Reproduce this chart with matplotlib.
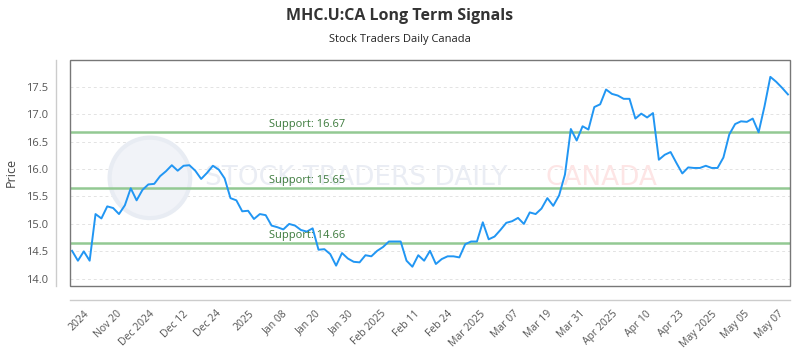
import numpy as np
import matplotlib.pyplot as plt
from matplotlib.patches import Rectangle, Ellipse

# ── data ────────────────────────────────────────────────────────────────
PRICES = [
    14.51, 14.33, 14.50, 14.33, 15.18, 15.10, 15.32, 15.29, 15.18, 15.34,
    15.65, 15.43, 15.62, 15.72, 15.73, 15.87, 15.96, 16.07, 15.97, 16.06,
    16.07, 15.97, 15.82, 15.93, 16.06, 15.99, 15.83, 15.47, 15.43, 15.23,
    15.24, 15.09, 15.18, 15.16, 14.97, 14.94, 14.90, 15.00, 14.97, 14.89,
    14.86, 14.92, 14.53, 14.54, 14.45, 14.24, 14.47, 14.37, 14.31, 14.30,
    14.43, 14.41, 14.51, 14.58, 14.68, 14.68, 14.68, 14.33, 14.22, 14.43,
    14.33, 14.51, 14.27, 14.36, 14.41, 14.41, 14.39, 14.63, 14.68, 14.68,
    15.03, 14.72, 14.77, 14.89, 15.02, 15.05, 15.11, 15.00, 15.21, 15.18,
    15.28, 15.47, 15.33, 15.52, 15.90, 16.73, 16.52, 16.78, 16.72, 17.13,
    17.18, 17.45, 17.37, 17.34, 17.28, 17.28, 16.92, 17.01, 16.94, 17.02,
    16.17, 16.26, 16.31, 16.11, 15.92, 16.03, 16.02, 16.02, 16.06, 16.02,
    16.02, 16.21, 16.63, 16.82, 16.87, 16.86, 16.92, 16.67, 17.14, 17.68,
    17.59, 17.48, 17.36,
]
SUPPORTS = [16.67, 15.65, 14.66]
XTICK_LABELS = [
    "2024", "Nov 20", "Dec 2024", "Dec 12", "Dec 24", "2025", "Jan 08",
    "Jan 20", "Jan 30", "Feb 2025", "Feb 11", "Feb 24", "Mar 2025", "Mar 07",
    "Mar 19", "Mar 31", "Apr 2025", "Apr 10", "Apr 23", "May 2025",
    "May 05", "May 07",
]
YTICKS = [14.0, 14.5, 15.0, 15.5, 16.0, 16.5, 17.0, 17.5]

TITLE = "MHC.U:CA Long Term Signals"
SUBTITLE = "Stock Traders Daily Canada"

LINE_COLOR = "#2196F3"
SUPPORT_COLOR = "#93c993"
SUPPORT_TEXT = "#3c7a3c"
TEXT_GREY = "#555555"

plt.rcParams.update({
    "font.family": ["Open Sans", "DejaVu Sans"],
    "font.size": 8,
})

fig = plt.figure(figsize=(8, 3.5), dpi=100)
ax = fig.add_axes([0.0875, 0.183, 0.9, 0.646])

# offset light axis lines + darker plot frame (before tick styling:
# moving a spine resets the tick labels)
for side in ("top", "right"):
    ax.spines[side].set_visible(False)
for side in ("left", "bottom"):
    ax.spines[side].set_position(("outward", 10))
    ax.spines[side].set_color("#cccccc")
    ax.spines[side].set_linewidth(1.0)
ax.add_patch(Rectangle((0, 0), 1, 1, transform=ax.transAxes, fill=False,
                       ec="#777777", lw=1.0, clip_on=False, zorder=6))

x = np.arange(len(PRICES))
ax.plot(x, PRICES, color=LINE_COLOR, lw=1.4, zorder=4)

for s in SUPPORTS:
    ax.axhline(s, color=SUPPORT_COLOR, lw=1.8, zorder=3)
    ax.text(33.5, s + 0.035, f"Support: {s:.2f}", color=SUPPORT_TEXT,
            fontsize=8, ha="left", va="bottom", zorder=5)

ax.set_xlim(-0.35, len(PRICES) - 1 + 0.35)
ax.set_ylim(13.87, 17.99)
ax.set_yticks(YTICKS)
ax.set_yticklabels([f"{v:.1f}" for v in YTICKS])
ax.grid(axis="y", color="#e3e3e3", ls=(0, (3, 3)), lw=0.7)
ax.set_axisbelow(True)

# evenly spaced category labels, rotated
tick_pos = np.linspace(2.6, 120.9, len(XTICK_LABELS))
ax.set_xticks(tick_pos)
ax.set_xticklabels(XTICK_LABELS, rotation=45, ha="right",
                   rotation_mode="anchor", va="center")
ax.tick_params(axis="x", length=0, pad=9, labelsize=7.5, labelcolor=TEXT_GREY)
ax.tick_params(axis="y", length=0, pad=6, labelsize=8, labelcolor=TEXT_GREY)

ax.set_ylabel("Price", fontsize=9, color="#444444", labelpad=6)

# watermark
ax.add_patch(Ellipse((0.111, 0.478), 0.112, 0.356, transform=ax.transAxes,
                     fc="#f1f3f8", ec="#e8ecf3", lw=3, zorder=1))
ax.text(0.188, 0.478, "STOCK TRADERS DAILY", transform=ax.transAxes,
        fontsize=19, color="#eaedf4", ha="left", va="center",
        family=["Liberation Sans Narrow", "DejaVu Sans"], zorder=1)
ax.text(0.66, 0.478, "CANADA", transform=ax.transAxes,
        fontsize=19, color="#fde5e5", ha="left", va="center",
        family=["Liberation Sans Narrow", "DejaVu Sans"], zorder=1)

fig.text(0.5, 0.955, TITLE, ha="center", va="center", fontsize=11.5,
         fontweight="bold", color="#333333")
fig.text(0.5, 0.888, SUBTITLE, ha="center", va="center", fontsize=8,
         color="#222222")

fig.savefig("out.png", dpi=100)
